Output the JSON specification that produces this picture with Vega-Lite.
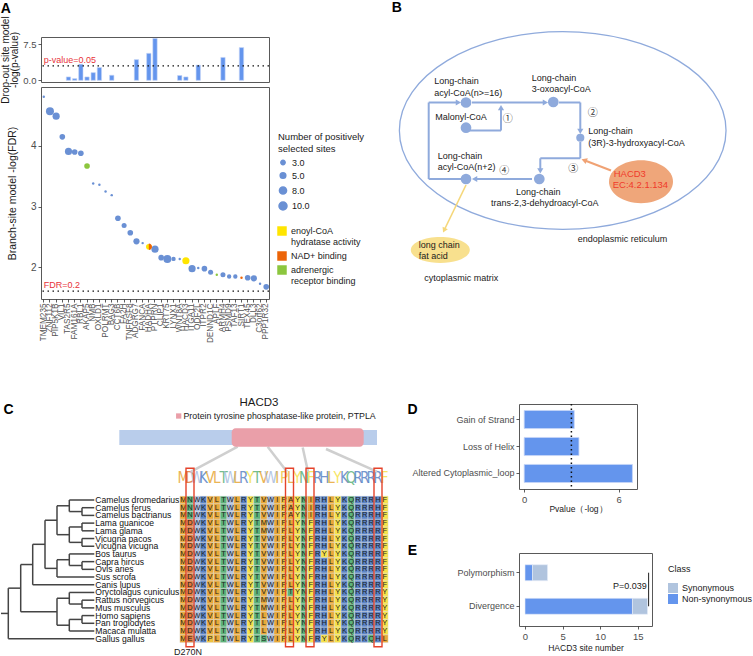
{
"$schema": "https://vega.github.io/schema/vega-lite/v6.json",
"padding": 0,
"background": "white",
"config": {
 "font": "Liberation Sans",
 "view": {"stroke": "#595959", "strokeWidth": 1},
 "axis": {"domain": false, "grid": false, "minExtent": 0, "labelColor": "#4D4D4D", "labelFontSize": 9.5, "tickColor": "#333333", "tickSize": 3, "tickWidth": 0.8, "titleFontSize": 10.5, "titleFontWeight": "normal", "titleColor": "#1A1A1A", "labelPadding": 2},
 "legend": {"titleFontWeight": "normal", "titleColor": "#1A1A1A", "labelColor": "#1A1A1A", "labelFontSize": 9, "titleFontSize": 9, "symbolBaseFillColor": "#6A90D4", "symbolBaseStrokeColor": "#6A90D4"}
},
"datasets": {
 "genes": [
  {"g":"TMEM235","fdr":4.81,"n":1,"f":"none"},
  {"g":"ZNF112","fdr":4.57,"n":10,"f":"none"},
  {"g":"PIP5K1B","fdr":4.49,"n":8,"f":"none"},
  {"g":"VIL1","fdr":4.15,"n":5,"f":"none"},
  {"g":"TAS2R5","fdr":3.91,"n":8,"f":"none","d":0.7},
  {"g":"FAM161A","fdr":3.9,"n":5,"f":"none","d":0.35},
  {"g":"RBL1","fdr":3.88,"n":5,"f":"none","d":3.35},
  {"g":"AKAP5","fdr":3.67,"n":5,"f":"adrenergic receptor binding","d":0.7},
  {"g":"NMB","fdr":3.38,"n":1,"f":"none","d":1.6},
  {"g":"OXLD1","fdr":3.36,"n":1,"f":"none","d":2.65},
  {"g":"POLRMT","fdr":3.25,"n":1,"f":"none"},
  {"g":"BAG3","fdr":3.19,"n":1,"f":"none","d":1.05},
  {"g":"CCT6B","fdr":2.81,"n":5,"f":"none"},
  {"g":"FA2H","fdr":2.69,"n":4,"f":"none"},
  {"g":"TNFRSF8","fdr":2.57,"n":5,"f":"none"},
  {"g":"ADGRG7","fdr":2.43,"n":6,"f":"none","d":4.3},
  {"g":"FANCA","fdr":2.4,"n":1,"f":"none"},
  {"g":"HADHA","fdr":2.34,"n":5,"f":"enoyl-CoA hydratase activity","f2":"NAD+ binding","d":5.6},
  {"g":"PTPRN","fdr":2.3,"n":8,"f":"none","d":8.7},
  {"g":"CLIP1","fdr":2.16,"n":5,"f":"none"},
  {"g":"KRT75","fdr":2.14,"n":10,"f":"none"},
  {"g":"LYNX1","fdr":2.14,"n":3,"f":"none"},
  {"g":"WNT8A","fdr":2.14,"n":1,"f":"none","d":1.0},
  {"g":"HACD3","fdr":2.11,"n":8,"f":"enoyl-CoA hydratase activity","d":0.7},
  {"g":"ITGA11","fdr":1.98,"n":8,"f":"none"},
  {"g":"ODF2L","fdr":1.99,"n":1,"f":"none","d":3.15},
  {"g":"ITPR2","fdr":1.98,"n":5,"f":"none"},
  {"g":"DENND1C","fdr":1.92,"n":4,"f":"none"},
  {"g":"APLF","fdr":1.88,"n":1,"f":"adrenergic receptor binding"},
  {"g":"ARMH4","fdr":1.88,"n":4,"f":"none","d":4.75},
  {"g":"PSMD9","fdr":1.85,"n":3,"f":"none"},
  {"g":"TAF13","fdr":1.85,"n":3,"f":"none"},
  {"g":"SIRT1","fdr":1.83,"n":1,"f":"NAD+ binding","d":6.8},
  {"g":"TEX45","fdr":1.83,"n":5,"f":"none"},
  {"g":"DLL3","fdr":1.82,"n":6,"f":"none"},
  {"g":"C3orf62","fdr":1.73,"n":1,"f":"none"},
  {"g":"PPP1R32","fdr":1.68,"n":5,"f":"none"}
 ],
 "tree": [
  {"x":81,"x2":81,"y":2,"y2":3},{"x":68.3,"x2":68.3,"y":1,"y2":2.5},{"x":81,"x2":81,"y":4,"y2":5},{"x":81,"x2":81,"y":6,"y2":7},
  {"x":68.3,"x2":68.3,"y":4.5,"y2":6.5},{"x":56,"x2":56,"y":1.75,"y2":5.5},{"x":81,"x2":81,"y":9,"y2":10},{"x":68.3,"x2":68.3,"y":8,"y2":9.5},
  {"x":56,"x2":56,"y":8.75,"y2":11},{"x":44,"x2":44,"y":3.625,"y2":9.875},{"x":31.7,"x2":31.7,"y":6.75,"y2":12},{"x":81,"x2":81,"y":14,"y2":15},
  {"x":68.3,"x2":68.3,"y":13,"y2":14.5},{"x":81,"x2":81,"y":16,"y2":17},{"x":68.3,"x2":68.3,"y":16.5,"y2":18},{"x":56,"x2":56,"y":13.75,"y2":17.25},
  {"x":19.7,"x2":19.7,"y":9.375,"y2":15.5},{"x":7.3,"x2":7.3,"y":12.44,"y2":19},
  {"x":68.3,"x2":93.3,"y":1,"y2":1},{"x":81,"x2":93.3,"y":2,"y2":2},{"x":81,"x2":93.3,"y":3,"y2":3},{"x":81,"x2":93.3,"y":4,"y2":4},
  {"x":81,"x2":93.3,"y":5,"y2":5},{"x":81,"x2":93.3,"y":6,"y2":6},{"x":81,"x2":93.3,"y":7,"y2":7},{"x":68.3,"x2":93.3,"y":8,"y2":8},
  {"x":81,"x2":93.3,"y":9,"y2":9},{"x":81,"x2":93.3,"y":10,"y2":10},{"x":56,"x2":93.3,"y":11,"y2":11},{"x":31.7,"x2":93.3,"y":12,"y2":12},
  {"x":68.3,"x2":93.3,"y":13,"y2":13},{"x":81,"x2":93.3,"y":14,"y2":14},{"x":81,"x2":93.3,"y":15,"y2":15},{"x":81,"x2":93.3,"y":16,"y2":16},
  {"x":81,"x2":93.3,"y":17,"y2":17},{"x":68.3,"x2":93.3,"y":18,"y2":18},{"x":7.3,"x2":93.3,"y":19,"y2":19},
  {"x":68.3,"x2":81,"y":2.5,"y2":2.5},{"x":56,"x2":68.3,"y":1.75,"y2":1.75},{"x":68.3,"x2":81,"y":4.5,"y2":4.5},{"x":68.3,"x2":81,"y":6.5,"y2":6.5},
  {"x":56,"x2":68.3,"y":5.5,"y2":5.5},{"x":44,"x2":56,"y":3.625,"y2":3.625},{"x":68.3,"x2":81,"y":9.5,"y2":9.5},{"x":56,"x2":68.3,"y":8.75,"y2":8.75},
  {"x":44,"x2":56,"y":9.875,"y2":9.875},{"x":31.7,"x2":44,"y":6.75,"y2":6.75},{"x":19.7,"x2":31.7,"y":9.375,"y2":9.375},{"x":68.3,"x2":81,"y":14.5,"y2":14.5},
  {"x":56,"x2":68.3,"y":13.75,"y2":13.75},{"x":68.3,"x2":81,"y":16.5,"y2":16.5},{"x":56,"x2":68.3,"y":17.25,"y2":17.25},{"x":19.7,"x2":56,"y":15.5,"y2":15.5},
  {"x":7.3,"x2":19.7,"y":12.44,"y2":12.44},{"x":0,"x2":7.3,"y":15.72,"y2":15.72}
 ],
 "spnames": [
  {"x":93.3,"y":1,"sp":"Camelus dromedarius"},{"x":93.3,"y":2,"sp":"Camelus ferus"},{"x":93.3,"y":3,"sp":"Camelus bactrianus"},{"x":93.3,"y":4,"sp":"Lama guanicoe"},
  {"x":93.3,"y":5,"sp":"Lama glama"},{"x":93.3,"y":6,"sp":"Vicugna pacos"},{"x":93.3,"y":7,"sp":"Vicugna vicugna"},{"x":93.3,"y":8,"sp":"Bos taurus"},
  {"x":93.3,"y":9,"sp":"Capra hircus"},{"x":93.3,"y":10,"sp":"Ovis aries"},{"x":93.3,"y":11,"sp":"Sus scrofa"},{"x":93.3,"y":12,"sp":"Canis lupus"},
  {"x":93.3,"y":13,"sp":"Oryctolagus cuniculus"},{"x":93.3,"y":14,"sp":"Rattus norvegicus"},{"x":93.3,"y":15,"sp":"Mus musculus"},{"x":93.3,"y":16,"sp":"Homo sapiens"},
  {"x":93.3,"y":17,"sp":"Pan troglodytes"},{"x":93.3,"y":18,"sp":"Macaca mulatta"},{"x":93.3,"y":19,"sp":"Gallus gallus"}
 ],
 "aln": [
  {"s":1,"c":[1,2,3,4,5,6,7,8,9,10,11,12,13,14,15,16,17,18,19,20,21,22,23,24,25,26,27,28,29,30,31],"r":["M","N","W","K","V","L","T","W","L","R","Y","T","V","W","I","P","A","Y","N","I","R","H","L","Y","K","Q","R","R","R","H","F"]},
  {"s":2,"c":[1,2,3,4,5,6,7,8,9,10,11,12,13,14,15,16,17,18,19,20,21,22,23,24,25,26,27,28,29,30,31],"r":["M","N","W","K","V","L","T","W","L","R","Y","T","V","W","I","P","A","Y","N","I","R","H","L","Y","K","Q","R","R","R","H","F"]},
  {"s":3,"c":[1,2,3,4,5,6,7,8,9,10,11,12,13,14,15,16,17,18,19,20,21,22,23,24,25,26,27,28,29,30,31],"r":["M","N","W","K","V","L","T","W","L","R","Y","T","V","W","I","P","A","Y","N","I","R","H","L","Y","K","Q","R","R","R","H","F"]},
  {"s":4,"c":[1,2,3,4,5,6,7,8,9,10,11,12,13,14,15,16,17,18,19,20,21,22,23,24,25,26,27,28,29,30,31],"r":["M","D","W","K","V","L","T","W","L","R","Y","T","M","W","I","P","L","Y","N","F","R","H","L","Y","K","Q","R","R","R","R","F"]},
  {"s":5,"c":[1,2,3,4,5,6,7,8,9,10,11,12,13,14,15,16,17,18,19,20,21,22,23,24,25,26,27,28,29,30,31],"r":["M","D","W","K","V","L","T","W","L","R","Y","T","M","W","I","P","L","Y","N","F","R","H","L","Y","K","Q","R","R","R","R","F"]},
  {"s":6,"c":[1,2,3,4,5,6,7,8,9,10,11,12,13,14,15,16,17,18,19,20,21,22,23,24,25,26,27,28,29,30,31],"r":["M","D","W","K","V","L","T","W","L","R","Y","T","V","W","I","P","L","Y","N","F","R","H","L","Y","K","Q","R","R","R","R","F"]},
  {"s":7,"c":[1,2,3,4,5,6,7,8,9,10,11,12,13,14,15,16,17,18,19,20,21,22,23,24,25,26,27,28,29,30,31],"r":["M","D","W","K","V","L","T","W","L","R","Y","T","V","W","I","P","L","Y","N","F","R","H","L","Y","K","Q","R","R","R","R","F"]},
  {"s":8,"c":[1,2,3,4,5,6,7,8,9,10,11,12,13,14,15,16,17,18,19,20,21,22,23,24,25,26,27,28,29,30,31],"r":["M","D","W","K","V","L","T","W","L","R","Y","T","V","W","I","P","L","Y","N","F","R","Y","L","Y","K","Q","R","R","R","R","F"]},
  {"s":9,"c":[1,2,3,4,5,6,7,8,9,10,11,12,13,14,15,16,17,18,19,20,21,22,23,24,25,26,27,28,29,30,31],"r":["M","D","W","K","V","L","T","W","L","R","Y","T","V","W","I","P","L","Y","N","F","R","H","L","Y","K","Q","R","R","R","R","F"]},
  {"s":10,"c":[1,2,3,4,5,6,7,8,9,10,11,12,13,14,15,16,17,18,19,20,21,22,23,24,25,26,27,28,29,30,31],"r":["M","D","W","K","V","L","T","W","L","R","Y","T","V","W","I","P","L","Y","N","F","R","H","L","Y","K","Q","R","R","R","R","F"]},
  {"s":11,"c":[1,2,3,4,5,6,7,8,9,10,11,12,13,14,15,16,17,18,19,20,21,22,23,24,25,26,27,28,29,30,31],"r":["M","D","W","K","V","L","T","W","L","R","Y","T","V","W","I","P","L","Y","N","F","R","H","L","Y","K","Q","R","R","R","R","F"]},
  {"s":12,"c":[1,2,3,4,5,6,7,8,9,10,11,12,13,14,15,16,17,18,19,20,21,22,23,24,25,26,27,28,29,30,31],"r":["M","D","W","K","V","L","T","W","L","R","Y","T","V","W","I","P","L","Y","N","F","R","H","L","Y","K","Q","R","R","R","R","F"]},
  {"s":13,"c":[1,2,3,4,5,6,7,8,9,10,11,12,13,14,15,16,17,18,19,20,21,22,23,24,25,26,27,28,29,30,31],"r":["M","D","W","K","V","L","T","W","L","R","Y","T","V","W","I","P","T","Y","N","F","R","H","L","Y","K","Q","R","R","R","R","Y"]},
  {"s":14,"c":[1,2,3,4,5,6,7,8,9,10,11,12,13,14,15,16,17,18,19,20,21,22,23,24,25,26,27,28,29,30,31],"r":["M","D","W","K","V","L","T","W","L","R","Y","T","M","W","I","P","L","Y","N","F","R","H","L","Y","K","Q","R","R","R","R","Y"]},
  {"s":15,"c":[1,2,3,4,5,6,7,8,9,10,11,12,13,14,15,16,17,18,19,20,21,22,23,24,25,26,27,28,29,30,31],"r":["M","D","W","K","V","L","T","W","L","R","Y","T","M","W","I","P","L","Y","N","F","R","H","L","Y","K","Q","R","R","R","R","Y"]},
  {"s":16,"c":[1,2,3,4,5,6,7,8,9,10,11,12,13,14,15,16,17,18,19,20,21,22,23,24,25,26,27,28,29,30,31],"r":["M","D","W","K","V","L","T","W","L","R","Y","T","L","W","I","P","L","Y","N","F","R","H","L","Y","K","Q","R","R","R","R","Y"]},
  {"s":17,"c":[1,2,3,4,5,6,7,8,9,10,11,12,13,14,15,16,17,18,19,20,21,22,23,24,25,26,27,28,29,30,31],"r":["M","D","W","K","V","L","T","W","L","R","Y","T","L","W","I","P","L","Y","N","F","R","H","L","Y","K","Q","R","R","R","R","Y"]},
  {"s":18,"c":[1,2,3,4,5,6,7,8,9,10,11,12,13,14,15,16,17,18,19,20,21,22,23,24,25,26,27,28,29,30,31],"r":["M","D","W","K","V","L","T","W","L","R","Y","T","L","W","I","P","L","Y","N","F","R","H","L","Y","K","Q","R","R","R","R","Y"]},
  {"s":19,"c":[1,2,3,4,5,6,7,8,9,10,11,12,13,14,15,16,17,18,19,20,21,22,23,24,25,26,27,28,29,30,31],"r":["M","E","W","K","P","L","T","W","L","R","Y","T","S","W","I","P","L","Y","N","F","R","Y","L","Y","K","Q","R","K","Q","H","L"]}
 ]
},
"columns": 2,
"spacing": {"row": 5, "column": 250},
"bounds": "flush",
"align": "each",
"resolve": {"scale": {"color": "independent", "size": "independent"}},
"concat": [
 {
  "width": 228, "height": 45,
  "title": {"text": "A", "anchor": "start", "frame": "bounds", "fontSize": 14, "fontWeight": "bold", "offset": 0, "color": "#000000"},
  "layer": [
   {"data": {"name": "genes"}, "mark": {"type": "bar", "color": "#6495ED", "stroke": "#C2D3F6", "strokeWidth": 0.6},
    "encoding": {
     "x": {"field": "g", "type": "nominal", "scale": {"domain": ["TMEM235","ZNF112","PIP5K1B","VIL1","TAS2R5","FAM161A","RBL1","AKAP5","NMB","OXLD1","POLRMT","BAG3","CCT6B","FA2H","TNFRSF8","ADGRG7","FANCA","HADHA","PTPRN","CLIP1","KRT75","LYNX1","WNT8A","HACD3","ITGA11","ODF2L","ITPR2","DENND1C","APLF","ARMH4","PSMD9","TAF13","SIRT1","TEX45","DLL3","C3orf62","PPP1R32"], "paddingInner": 0.3, "paddingOuter": 0.1}, "axis": null},
     "y": {"field": "d", "type": "quantitative", "scale": {"domain": [-0.35, 9.0], "nice": false, "zero": false}, "axis": {"values": [0, 2.5, 5, 7.5], "format": ".1f", "title": ["Drop-out site model", "-log(p-value)"], "titleFontSize": 10, "titleLineHeight": 9, "titlePadding": 3}},
     "y2": {"datum": 0}
    }},
   {"data": {"values": [{}]}, "mark": {"type": "rule", "strokeDash": [1.5, 3.5], "strokeWidth": 1.4, "color": "#111111"}, "encoding": {"y": {"datum": 3}}},
   {"data": {"values": [{}]}, "mark": {"type": "text", "color": "#E8333A", "fontSize": 9, "align": "left", "baseline": "bottom", "dy": -1},
    "encoding": {"x": {"datum": "TMEM235"}, "y": {"datum": 3}, "text": {"value": "p-value=0.05"}}}
  ]
 },
 {
  "width": 235, "height": 45,
  "view": {"stroke": null},
  "encoding": {
   "x": {"field": "x", "type": "quantitative", "scale": {"domain": [128, 363], "nice": false, "zero": false}, "axis": null},
   "y": {"field": "y", "type": "quantitative", "scale": {"domain": [37, 82], "nice": false, "zero": false, "reverse": true}, "axis": null}
  },
  "layer": [
   {"data": {"values": [{"x": 171.7, "y": 130.5}]}, "mark": {"type": "point", "shape": "M-1,0C-1,-0.334,-0.552,-0.605,0,-0.605C0.552,-0.605,1,-0.334,1,0C1,0.334,0.552,0.605,0,0.605C-0.552,0.605,-1,0.334,-1,0Z", "size": 106700, "filled": false, "color": "#8FAADC", "strokeWidth": 1.3, "opacity": 1}},
   {"data": {"values": [{"x": 49.3, "y": 250}]}, "mark": {"type": "point", "shape": "M-1,0C-1,-0.243,-0.552,-0.44,0,-0.44C0.552,-0.44,1,-0.243,1,0C1,0.243,0.552,0.44,0,0.44C-0.552,0.44,-1,0.243,-1,0Z", "size": 3481, "filled": true, "color": "#F8E08E", "opacity": 1}},
   {"data": {"values": [{"x": 250, "y": 181.7}]}, "mark": {"type": "point", "shape": "M-1,0C-1,-0.37,-0.552,-0.67,0,-0.67C0.552,-0.67,1,-0.37,1,0C1,0.37,0.552,0.67,0,0.67C-0.552,0.67,-1,0.37,-1,0Z", "size": 4096, "filled": true, "color": "#EFA67A", "opacity": 1}},
   {"data": {"values": [
     {"x":37.7,"y":102.5,"x2":37.7,"y2":179},{"x":37.7,"y":102.5,"x2":66,"y2":102.5},{"x":37.7,"y":179,"x2":75,"y2":179},
     {"x":81,"y":102.5,"x2":153,"y2":102.5},{"x":75,"y":130.5,"x2":110,"y2":130.5},{"x":110,"y":130.5,"x2":110,"y2":109},
     {"x":168,"y":102.5,"x2":189.3,"y2":102.5},{"x":189.3,"y":102.5,"x2":189.3,"y2":130},{"x":189.3,"y":142,"x2":189.3,"y2":158.3},
     {"x":189.3,"y":158.3,"x2":149.3,"y2":158.3},{"x":149.3,"y":158.3,"x2":149.3,"y2":169.5},{"x":141,"y":179,"x2":85,"y2":179}]},
    "mark": {"type": "rule", "color": "#8FAADC", "strokeWidth": 2}, "encoding": {"x2": {"field": "x2"}, "y2": {"field": "y2"}}},
   {"data": {"values": [{"x":66.5,"y":102.5,"a":90},{"x":153.5,"y":102.5,"a":90},{"x":110,"y":108.5,"a":0},{"x":189.3,"y":130.5,"a":180},{"x":149.3,"y":170,"a":180},{"x":84.5,"y":179,"a":270}]},
    "mark": {"type": "point", "shape": "triangle", "filled": true, "size": 38, "color": "#8FAADC", "opacity": 1},
    "encoding": {"angle": {"field": "a", "type": "quantitative", "scale": {"domain": [0, 360], "range": [0, 360]}}}},
   {"data": {"values": [{"x":220,"y":170.5,"x2":194,"y2":160.5}]}, "mark": {"type": "rule", "color": "#F0A274", "strokeWidth": 2}, "encoding": {"x2": {"field": "x2"}, "y2": {"field": "y2"}}},
   {"data": {"values": [{"x":194,"y":160.5,"a":291}]}, "mark": {"type": "point", "shape": "triangle", "filled": true, "size": 40, "color": "#F0A274", "opacity": 1},
    "encoding": {"angle": {"field": "a", "type": "quantitative", "scale": {"domain": [0, 360], "range": [0, 360]}}}},
   {"data": {"values": [{"x":75,"y":185,"x2":53.5,"y2":229.5}]}, "mark": {"type": "rule", "color": "#F5D77A", "strokeWidth": 1.6}, "encoding": {"x2": {"field": "x2"}, "y2": {"field": "y2"}}},
   {"data": {"values": [{"x":53.5,"y":229.5,"a":205}]}, "mark": {"type": "point", "shape": "triangle", "filled": true, "size": 34, "color": "#F5D77A", "opacity": 1},
    "encoding": {"angle": {"field": "a", "type": "quantitative", "scale": {"domain": [0, 360], "range": [0, 360]}}}},
   {"data": {"values": [{"x":75,"y":102.5},{"x":75,"y":127.7},{"x":162.3,"y":102},{"x":148.3,"y":179},{"x":75,"y":179}]}, "mark": {"type": "circle", "size": 115, "color": "#8FAADC", "opacity": 1}},
   {"data": {"values": [{"x":189.3,"y":137.7}]}, "mark": {"type": "circle", "size": 66, "color": "#8FAADC", "opacity": 1}},
   {"data": {"values": [
     {"x":43.3,"y":81,"t":"Long-chain"},{"x":43.3,"y":92.7,"t":"acyl-CoA(n>=16)"},{"x":44.3,"y":116.7,"t":"Malonyl-CoA"},
     {"x":140.7,"y":78.3,"t":"Long-chain"},{"x":140.7,"y":89.3,"t":"3-oxoacyl-CoA"},
     {"x":197.3,"y":131,"t":"Long-chain"},{"x":197.3,"y":142.7,"t":"(3R)-3-hydroxyacyl-CoA"},
     {"x":46.7,"y":155.7,"t":"Long-chain"},{"x":46.7,"y":166.7,"t":"acyl-CoA(n+2)"},
     {"x":125,"y":192.3,"t":"Long-chain"},{"x":100,"y":203.3,"t":"trans-2,3-dehydroacyl-CoA"},
     {"x":186.7,"y":239,"t":"endoplasmic reticulum"},{"x":27.7,"y":245,"t":"long chain"},{"x":27.7,"y":256,"t":"fat acid"},
     {"x":33.3,"y":277.7,"t":"cytoplasmic matrix"}]},
    "mark": {"type": "text", "align": "left", "baseline": "middle", "fontSize": 9, "color": "#1A1A1A"}, "encoding": {"text": {"field": "t"}}},
   {"data": {"values": [{"x":116.7,"y":119,"t":"①"},{"x":201.7,"y":112.7,"t":"②"},{"x":182.3,"y":168.7,"t":"③"},{"x":113.3,"y":171,"t":"④"}]},
    "mark": {"type": "text", "align": "center", "baseline": "middle", "fontSize": 10, "font": "Noto Sans CJK SC", "color": "#333333"}, "encoding": {"text": {"field": "t"}}},
   {"data": {"values": [{"x":222.7,"y":174,"t":"HACD3"},{"x":221.7,"y":185,"t":"EC:4.2.1.134"}]},
    "mark": {"type": "text", "align": "left", "baseline": "middle", "fontSize": 9.5, "color": "#F03A2A"}, "encoding": {"text": {"field": "t"}}},
   {"data": {"values": [{"x":5.8,"y":7.5,"t":"B"}]},
    "mark": {"type": "text", "align": "center", "baseline": "middle", "fontSize": 14, "fontWeight": "bold", "color": "#000000"}, "encoding": {"text": {"field": "t"}}}
  ]
 },
 {
  "width": 228, "height": 212,
  "layer": [
   {"data": {"values": [{}]}, "mark": {"type": "rule", "strokeDash": [1.5, 3.5], "strokeWidth": 1.4, "color": "#111111"}, "encoding": {"y": {"datum": 1.609}}},
   {"data": {"values": [{}]}, "mark": {"type": "text", "color": "#E8333A", "fontSize": 9, "align": "left", "baseline": "bottom", "dy": -1},
    "encoding": {"x": {"datum": "TMEM235"}, "y": {"datum": 1.609}, "text": {"value": "FDR=0.2"}}},
   {"data": {"name": "genes"}, "mark": {"type": "point", "filled": true, "opacity": 1, "strokeWidth": 0},
    "encoding": {
     "x": {"field": "g", "type": "nominal", "scale": {"type": "band", "domain": ["TMEM235","ZNF112","PIP5K1B","VIL1","TAS2R5","FAM161A","RBL1","AKAP5","NMB","OXLD1","POLRMT","BAG3","CCT6B","FA2H","TNFRSF8","ADGRG7","FANCA","HADHA","PTPRN","CLIP1","KRT75","LYNX1","WNT8A","HACD3","ITGA11","ODF2L","ITPR2","DENND1C","APLF","ARMH4","PSMD9","TAF13","SIRT1","TEX45","DLL3","C3orf62","PPP1R32"], "paddingInner": 0.3, "paddingOuter": 0.1}, "axis": {"title": null, "labelAngle": 270, "labelFontSize": 8.2, "labelPadding": 1, "labelColor": "#555555"}},
     "y": {"field": "fdr", "type": "quantitative", "scale": {"domain": [1.48, 4.97], "nice": false, "zero": false}, "axis": {"values": [2, 3, 4], "format": "d", "title": "Branch-site model -log(FDR)", "labelFontSize": 10, "titlePadding": 13}},
     "size": {"field": "n", "type": "quantitative", "scale": {"domain": [1, 10], "range": [6, 64]},
      "legend": {"values": [3, 5, 8, 10], "format": ".1f", "title": ["Number of positively", "selected sites"], "orient": "none", "direction": "vertical", "legendX": 237, "legendY": 45, "symbolType": "circle", "symbolFillColor": "#6A90D4", "symbolStrokeColor": "#6A90D4", "symbolOpacity": 1, "rowPadding": 1, "titlePadding": 5, "titleFontSize": 9.5, "labelFontSize": 9}},
     "color": {"field": "f", "type": "nominal", "scale": {"domain": ["enoyl-CoA hydratase activity", "NAD+ binding", "adrenergic receptor binding", "none"], "range": ["#FFE500", "#EC6408", "#8CC63E", "#6A90D4"]},
      "legend": {"values": ["enoyl-CoA hydratase activity", "NAD+ binding", "adrenergic receptor binding"], "title": null, "orient": "none", "direction": "vertical", "legendX": 236, "legendY": 139, "symbolType": "square", "symbolSize": 90, "symbolStrokeWidth": 0, "rowPadding": 4, "labelFontSize": 9,
       "labelExpr": "datum.label == 'enoyl-CoA hydratase activity' ? ['enoyl-CoA', 'hydratase activity'] : datum.label == 'adrenergic receptor binding' ? ['adrenergic', 'receptor binding'] : datum.label"}}
    }},
   {"data": {"name": "genes"}, "transform": [{"filter": "datum.f2 != null"}],
    "mark": {"type": "point", "filled": true, "opacity": 1, "strokeWidth": 0, "size": 40, "color": "#EC6408", "shape": "M0,-1C0.552,-1,1,-0.552,1,0C1,0.552,0.552,1,0,1Z"},
    "encoding": {
     "x": {"field": "g", "type": "nominal"},
     "y": {"field": "fdr", "type": "quantitative"}
    }}
  ]
 },
 {
  "width": 1, "height": 312,
  "view": {"stroke": null},
  "data": {"values": []},
  "mark": "point"
 },
 {
  "width": 228, "height": 144,
  "view": {"stroke": null},
  "resolve": {"scale": {"x": "independent", "y": "independent"}},
  "layer": [
   {
    "encoding": {
     "x": {"field": "x", "type": "quantitative", "scale": {"domain": [40, 268], "nice": false, "zero": false}, "axis": null},
     "y": {"field": "y", "type": "quantitative", "scale": {"domain": [1, 19], "range": [96, 234.7], "nice": false, "zero": false}, "axis": null}
    },
    "layer": [
     {"data": {"name": "tree"}, "mark": {"type": "rule", "color": "#444444", "strokeWidth": 1.5}, "encoding": {"x2": {"field": "x2"}, "y2": {"field": "y2"}}},
     {"data": {"name": "spnames"}, "mark": {"type": "text", "align": "left", "baseline": "middle", "fontSize": 8.6, "color": "#111111", "dx": 1},
      "encoding": {"text": {"field": "sp"}}}
    ]
   },
   {
    "data": {"name": "aln"},
    "transform": [{"flatten": ["c", "r"]}],
    "encoding": {
     "x": {"field": "c", "type": "ordinal", "scale": {"range": [138.9, 347.1], "paddingInner": 0, "paddingOuter": 0}, "axis": null},
     "y": {"field": "s", "type": "ordinal", "scale": {"range": [92.15, 238.55], "paddingInner": 0, "paddingOuter": 0}, "axis": null}
    },
    "layer": [
     {"mark": {"type": "rect", "stroke": "#DDDDDD", "strokeWidth": 0.4},
      "encoding": {"color": {"field": "r", "type": "nominal", "legend": null,
       "scale": {"domain": ["A","V","L","I","M","P","F","Y","W","K","R","H","N","Q","S","T","D","E"],
                 "range": ["#E8A838","#E8A838","#E8A838","#E8A838","#E8A838","#EFC23F","#F6E24A","#F6E24A","#A9BCE0","#5B84C6","#5B84C6","#5B84C6","#5DB27A","#5DB27A","#5DB27A","#5DB27A","#E07A3C","#E07A3C"]}}}},
     {"mark": {"type": "text", "fontSize": 7.5, "color": "#1F1F1F", "baseline": "middle"}, "encoding": {"text": {"field": "r"}}}
    ]
   },
   {
    "data": {"values": [{"c":[1,2,3,4,5,6,7,8,9,10,11,12,13,14,15,16,17,18,19,20,21,22,23,24,25,26,27,28,29,30,31],"r":["M","D","W","K","V","L","T","W","L","R","Y","T","V","W","I","P","L","Y","N","F","R","H","L","Y","K","Q","R","R","R","R","F"]}]},
    "transform": [{"flatten": ["c", "r"]}],
    "mark": {"type": "text", "fontSize": 15, "baseline": "middle", "font": "Liberation Sans Narrow, DejaVu Sans Condensed, Liberation Sans", "opacity": 0.85},
    "encoding": {
     "x": {"field": "c", "type": "ordinal", "scale": {"range": [138.9, 347.1], "paddingInner": 0, "paddingOuter": 0}, "axis": null},
     "y": {"datum": 128, "type": "quantitative", "scale": {"domain": [54, 198], "nice": false, "zero": false, "reverse": true}, "axis": null},
     "text": {"field": "r"},
     "color": {"field": "r", "type": "nominal", "legend": null}
    }
   },
   {
    "encoding": {
     "x": {"field": "x", "type": "quantitative", "scale": {"domain": [40, 268], "nice": false, "zero": false}, "axis": null},
     "y": {"field": "y", "type": "quantitative", "scale": {"domain": [54, 198], "nice": false, "zero": false, "reverse": true}, "axis": null}
    },
    "layer": [
     {"data": {"values": [{"x":236.7,"y":96.7,"x2":190,"y2":121.7},{"x":266.7,"y":96.7,"x2":286,"y2":121.7},{"x":301.7,"y":97.5,"x2":307,"y2":121.7},{"x":325,"y":99,"x2":376,"y2":121.7}]},
      "mark": {"type": "rule", "color": "#CFCFCF", "strokeWidth": 2.5}, "encoding": {"x2": {"field": "x2"}, "y2": {"field": "y2"}}},
     {"data": {"values": [{"x":118.3,"x2":376,"y":80,"y2":95}]}, "mark": {"type": "rect", "color": "#B9CDEB"}, "encoding": {"x2": {"field": "x2"}, "y2": {"field": "y2"}}},
     {"data": {"values": [{"x":230.7,"x2":362.7,"y":78.3,"y2":96.7}]}, "mark": {"type": "rect", "color": "#EA9FA9", "cornerRadius": 4}, "encoding": {"x2": {"field": "x2"}, "y2": {"field": "y2"}}},
     {"data": {"values": [{"x":185,"x2":193,"y":118.3,"y2":296.7},{"x":284.5,"x2":292.5,"y":118.3,"y2":296.7},{"x":305,"x2":313,"y":118.3,"y2":296.7},{"x":373,"x2":381,"y":118.3,"y2":296.7}]},
      "mark": {"type": "rect", "filled": false, "color": "#E5432B", "strokeWidth": 1.4}, "encoding": {"x2": {"field": "x2"}, "y2": {"field": "y2"}}},
     {"data": {"values": [{"x":177.7,"y":66}]}, "mark": {"type": "square", "size": 28, "color": "#EA9FA9", "opacity": 1}},
     {"data": {"values": [{"x":182.5,"y":66,"t":"Protein tyrosine phosphatase-like protein, PTPLA"}]}, "mark": {"type": "text", "align": "left", "baseline": "middle", "fontSize": 8.8, "color": "#1A1A1A"}, "encoding": {"text": {"field": "t"}}},
     {"data": {"values": [{"x":258,"y":53.3,"t":"HACD3"}]}, "mark": {"type": "text", "align": "center", "baseline": "middle", "fontSize": 11.5, "color": "#1A1A1A"}, "encoding": {"text": {"field": "t"}}},
     {"data": {"values": [{"x":187,"y":302,"t":"D270N"}]}, "mark": {"type": "text", "align": "center", "baseline": "middle", "fontSize": 9, "color": "#1A1A1A"}, "encoding": {"text": {"field": "t"}}},
     {"data": {"values": [{"x":7.5,"y":59.5,"t":"C"}]}, "mark": {"type": "text", "align": "center", "baseline": "middle", "fontSize": 14, "fontWeight": "bold", "color": "#000000"}, "encoding": {"text": {"field": "t"}}}
    ]
   }
  ]
 },
 {
  "width": 118, "height": 85,
  "layer": [
   {"data": {"values": [{"feat":"Gain of Strand","p":3.18},{"feat":"Loss of Helix","p":3.48},{"feat":"Altered Cytoplasmic_loop","p":6.88}]},
    "mark": {"type": "bar", "color": "#6495ED", "stroke": "#C6D6F8", "strokeWidth": 0.8},
    "encoding": {
     "y": {"field": "feat", "type": "nominal", "sort": ["Gain of Strand","Loss of Helix","Altered Cytoplasmic_loop"], "scale": {"paddingInner": 0.33, "paddingOuter": 0.24}, "axis": {"title": null, "labelFontSize": 9}},
     "x": {"field": "p", "type": "quantitative", "scale": {"domain": [-0.33, 7.17], "nice": false, "zero": false}, "axis": {"values": [0, 2, 4, 6], "title": "Pvalue（-log）", "titleFontSize": 8.5, "titlePadding": 1}},
     "x2": {"datum": 0}
    }},
   {"data": {"values": [{}]}, "mark": {"type": "rule", "strokeDash": [1.5, 3], "strokeWidth": 1.5, "color": "#111111"}, "encoding": {"x": {"datum": 3}}},
   {"data": {"values": [{}]}, "mark": {"type": "text", "fontSize": 14, "fontWeight": "bold", "dy": -10, "color": "#000000"},
    "encoding": {"x": {"datum": -7.1}, "y": {"datum": "Gain of Strand"}, "text": {"value": "D"}}}
  ]
 },
 {
  "width": 1, "height": 1,
  "view": {"stroke": null},
  "data": {"values": []},
  "mark": "point"
 },
 {
  "width": 133, "height": 73,
  "layer": [
   {"data": {"values": [{"type":"Polymorphism","cls":"Non-synonymous","n":1},{"type":"Polymorphism","cls":"Synonymous","n":2},{"type":"Divergence","cls":"Non-synonymous","n":14.3},{"type":"Divergence","cls":"Synonymous","n":2}]},
    "mark": {"type": "bar", "stroke": "#E6ECF8", "strokeWidth": 0.6},
    "encoding": {
     "y": {"field": "type", "type": "nominal", "sort": ["Polymorphism","Divergence"], "scale": {"paddingInner": 0.525, "paddingOuter": 0.35}, "axis": {"title": null, "labelFontSize": 9}},
     "x": {"field": "n", "type": "quantitative", "stack": "zero", "scale": {"domain": [-0.8, 16.9], "nice": false, "zero": false}, "axis": {"values": [0, 5, 10, 15], "title": "HACD3 site number", "titleFontSize": 8.5, "titlePadding": 3}},
     "color": {"field": "cls", "type": "nominal", "scale": {"domain": ["Synonymous","Non-synonymous"], "range": ["#B0C4DE","#6495ED"]},
      "legend": {"title": "Class", "orient": "none", "direction": "vertical", "legendX": 149, "legendY": 12, "symbolType": "square", "symbolSize": 100, "symbolStrokeWidth": 0, "rowPadding": 1, "titlePadding": 9, "labelFontSize": 9, "titleFontSize": 9}},
     "order": {"field": "cls", "sort": "ascending"}
    }},
   {"data": {"values": [{}]}, "mark": {"type": "rule", "color": "#222222", "strokeWidth": 1}, "encoding": {"x": {"datum": 16.45}, "y": {"datum": "Polymorphism"}, "y2": {"datum": "Divergence"}}},
   {"data": {"values": [{}]}, "mark": {"type": "text", "align": "right", "fontSize": 9, "dy": 13, "color": "#1A1A1A"}, "encoding": {"x": {"datum": 16.2}, "y": {"datum": "Polymorphism"}, "text": {"value": "P=0.039"}}},
   {"data": {"values": [{}]}, "mark": {"type": "text", "fontSize": 14, "fontWeight": "bold", "dy": -22, "color": "#000000"}, "encoding": {"x": {"datum": -15}, "y": {"datum": "Polymorphism"}, "text": {"value": "E"}}}
  ]
 }
]
}
